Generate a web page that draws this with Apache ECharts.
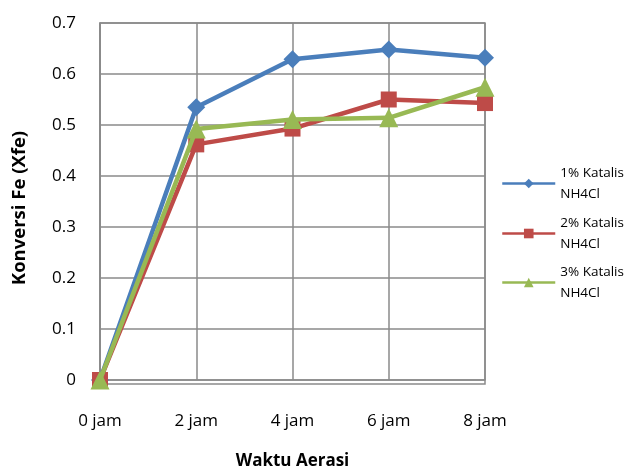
<!DOCTYPE html>
<html>
<head>
<meta charset="utf-8">
<script src="https://cdn.jsdelivr.net/npm/echarts@6/dist/echarts.min.js"></script>
<style>
  html, body { margin: 0; padding: 0; background: #fff; }
  #chart { width: 625px; height: 475px; }
</style>
</head>
<body>
<div id="chart"></div>
<script>
// Waktu aerasi (jam) dan konversi Fe untuk tiap kadar katalis NH4Cl
const categories = ['0 jam', '2 jam', '4 jam', '6 jam', '8 jam'];
const seriesNames = ['1% Katalis NH4Cl', '2% Katalis NH4Cl', '3% Katalis NH4Cl'];
const katalis1 = [0, 0.535, 0.629, 0.648, 0.632];
const katalis2 = [0, 0.462, 0.493, 0.550, 0.543];
const katalis3 = [0, 0.492, 0.511, 0.514, 0.574];
const yTicks = { min: 0, max: 0.7, interval: 0.1 };

const FONT = 'Open Sans';
const gridColor = '#8a8a8a';
const colors = ['#4a7ebb', '#be4b48', '#98b954'];
const symbols = ['diamond', 'rect', 'triangle'];
const symbolSizes = [18, 16, 19];
const values = [katalis1, katalis2, katalis3];

const chart = echarts.init(document.getElementById('chart'), null, { renderer: 'canvas' });

// one legend block per series so each two-line entry sits at its own height
const legendTops = [152, 202, 251];
const legends = seriesNames.map((name, i) => ({
  data: [name],
  orient: 'vertical',
  left: 501,
  top: legendTops[i],
  padding: 0,
  itemWidth: 53,
  itemHeight: 12,
  lineStyle: { width: 2.5 },
  selectedMode: false,
  formatter: n => n.replace(' NH4Cl', '\nNH4Cl'),
  textStyle: {
    fontFamily: FONT,
    fontSize: 13.5,
    color: '#000',
    lineHeight: 21,
    padding: [21, 0, 0, 0]
  },
  itemGap: 0
}));

chart.setOption({
  animation: false,
  backgroundColor: '#fff',
  legend: legends,
  grid: { left: 100, right: 140, top: 23, bottom: 91, containLabel: false },
  xAxis: {
    type: 'category',
    data: categories,
    boundaryGap: false,
    name: 'Waktu Aerasi',
    nameLocation: 'middle',
    nameGap: 73,
    nameTextStyle: { fontFamily: FONT, fontSize: 17, fontWeight: 'bold', color: '#000' },
    axisLine: { show: true, lineStyle: { color: gridColor, width: 1.5 } },
    axisTick: { show: false },
    axisLabel: { fontFamily: FONT, fontSize: 17, color: '#000', margin: 33 },
    splitLine: { show: true, lineStyle: { color: gridColor, width: 1.5 } }
  },
  yAxis: {
    type: 'value',
    min: yTicks.min,
    max: yTicks.max,
    interval: yTicks.interval,
    axisLine: { show: true, lineStyle: { color: gridColor, width: 1.5 } },
    axisTick: { show: false },
    axisLabel: {
      fontFamily: FONT, fontSize: 17, color: '#000', margin: 24,
      formatter: v => (Math.round(v * 10) / 10).toString()
    },
    splitLine: { show: true, lineStyle: { color: gridColor, width: 1.5 } }
  },
  graphic: [{
    type: 'rect',
    shape: { x: 100, y: 23, width: 385, height: 361 },
    style: { fill: 'none', stroke: gridColor, lineWidth: 1.5 },
    silent: true,
    z: 0
  }, {
    type: 'text',
    x: 20,
    y: 208,
    rotation: Math.PI / 2,
    style: {
      text: 'Konversi Fe (Xfe)',
      fontFamily: FONT,
      fontSize: 18.5,
      fontWeight: 'bold',
      fill: '#000',
      align: 'center',
      verticalAlign: 'middle'
    },
    silent: true
  }],
  series: values.map((vals, i) => ({
    name: seriesNames[i],
    type: 'line',
    data: vals,
    symbol: symbols[i],
    symbolSize: symbolSizes[i],
    showAllSymbol: true,
    color: colors[i],
    lineStyle: { width: 4.5, color: colors[i] },
    itemStyle: { color: colors[i] },
    z: 2 + i
  }))
});
</script>
</body>
</html>
